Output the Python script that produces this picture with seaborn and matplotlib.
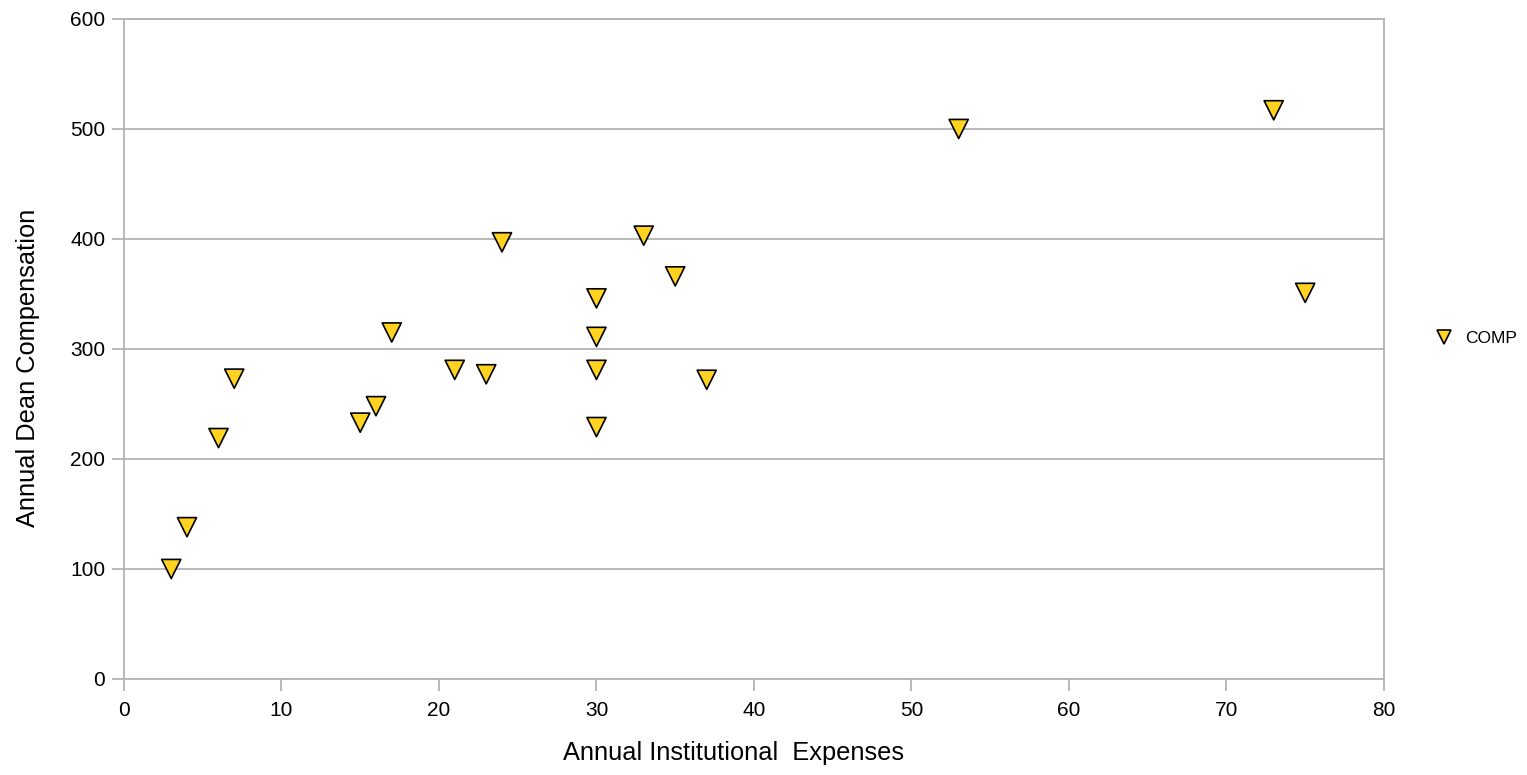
import seaborn as sns
import matplotlib.pyplot as plt
import pandas as pd

# data
expenses = [3, 4, 6, 7, 15, 16, 17, 21, 23, 24, 30, 30, 30, 30, 33, 35, 37, 53, 73, 75]
comp = [100, 138, 219, 273, 233, 248, 315, 281, 277, 397, 346, 311, 281, 229, 403, 366, 272, 500, 517, 351]

df = pd.DataFrame({"Expenses": expenses, "COMP": comp, "series": "COMP"})

sns.set_style("white")
plt.rcParams["font.family"] = ["Liberation Sans", "DejaVu Sans"]
plt.rcParams["text.color"] = "black"
plt.rcParams["axes.labelcolor"] = "black"
plt.rcParams["xtick.color"] = "black"
plt.rcParams["ytick.color"] = "black"

fig = plt.figure(figsize=(15.27, 7.75), dpi=100)
ax = fig.add_axes([0.0812, 0.1239, 0.8251, 0.8516])

sns.scatterplot(data=df, x="Expenses", y="COMP", hue="series",
                palette=["#ffd320"], marker="v", s=190,
                edgecolor="black", linewidth=1.2, ax=ax, legend=True, zorder=3)

grid_c = "#b3b3b3"
ax.set_xlim(0, 80)
ax.set_ylim(0, 600)
ax.set_xticks(range(0, 81, 10))
ax.set_yticks(range(0, 601, 100))
ax.yaxis.grid(True, color=grid_c, linewidth=1.3)
ax.set_axisbelow(True)
for sp in ax.spines.values():
    sp.set_color(grid_c)
    sp.set_linewidth(1.3)
ax.tick_params(axis="both", which="major", length=8.5, width=1.3, color=grid_c,
               labelcolor="black", labelsize=15, direction="out", pad=5,
               left=True, bottom=True)
ax.tick_params(axis="x", pad=7)

ax.set_xlabel("Annual Institutional  Expenses", fontsize=18.3)
ax.set_ylabel("Annual Dean Compensation", fontsize=18.3)
ax.xaxis.set_label_coords(0.484, -0.094)
ax.yaxis.set_label_coords(-0.067, 0.471)

handles, labels = ax.get_legend_handles_labels()
ax.legend_.remove()
fig.legend(handles, ["COMP"], loc="center left", bbox_to_anchor=(0.924, 0.563),
           frameon=False, fontsize=12.5, handletextpad=0.2, markerscale=0.7)

fig.savefig("out.png", dpi=100)
